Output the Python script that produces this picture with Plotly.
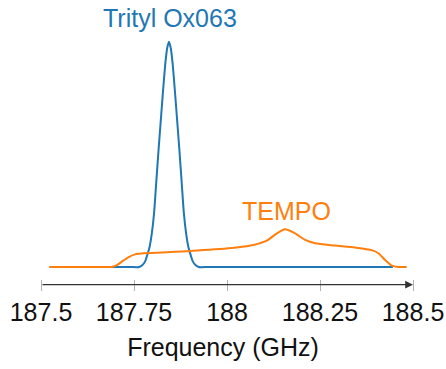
import plotly.graph_objects as go

# Data
tick_vals = [187.5, 187.75, 188.0, 188.25, 188.5]
tick_text = ["187.5", "187.75", "188", "188.25", "188.5"]

trityl_x = [187.69, 187.74, 187.764, 187.772, 187.78, 187.786, 187.792, 187.798, 187.804,
            187.810, 187.816, 187.822, 187.828, 187.834, 187.839, 187.844,
            187.849, 187.854, 187.860, 187.866, 187.872, 187.878, 187.884,
            187.890, 187.896, 187.902, 187.908, 187.916, 187.924, 187.95, 188.2, 188.446]
trityl_y = [0.0, 0.0, 0.0, 0.008, 0.025, 0.055, 0.09, 0.15, 0.24,
            0.38, 0.52, 0.65, 0.78, 0.90, 0.97, 1.0,
            0.97, 0.90, 0.78, 0.65, 0.52, 0.38, 0.24,
            0.15, 0.09, 0.055, 0.025, 0.008, 0.0, 0.0, 0.0, 0.0]

tempo_x = [187.522, 187.6, 187.670, 187.690, 187.704, 187.720, 187.737, 187.753, 187.793, 187.847,
           187.936, 188.026, 188.071, 188.107, 188.134, 188.156, 188.183, 188.210,
           188.237, 188.290, 188.344, 188.389, 188.407, 188.425, 188.443, 188.460,
           188.472, 188.483]
tempo_y = [0.0, 0.0, 0.0, 0.0, 0.008, 0.027, 0.045, 0.056, 0.062, 0.066,
           0.075, 0.087, 0.098, 0.117, 0.149, 0.167, 0.149, 0.120,
           0.105, 0.095, 0.086, 0.075, 0.061, 0.031, 0.006, 0.0,
           0.0, 0.0]

BLUE = "#1f77b4"
ORANGE = "#ff7f0e"
FONT = "Liberation Sans, Arial, sans-serif"

fig = go.Figure()
fig.add_trace(go.Scatter(x=trityl_x, y=trityl_y, mode="lines",
                         line=dict(color=BLUE, width=2, shape="spline", smoothing=0.6),
                         showlegend=False, hoverinfo="skip"))
fig.add_trace(go.Scatter(x=tempo_x, y=tempo_y, mode="lines",
                         line=dict(color=ORANGE, width=2, shape="spline", smoothing=0.6),
                         showlegend=False, hoverinfo="skip"))

fig.add_annotation(x=187.847, y=1.105, xref="x", yref="y", text="Trityl Ox063",
                   showarrow=False, font=dict(family=FONT, size=25, color=BLUE))
fig.add_annotation(x=188.16, y=0.25, xref="x", yref="y", text="TEMPO",
                   showarrow=False, font=dict(family=FONT, size=25, color=ORANGE))

# axis line with arrow
fig.add_annotation(x=188.5, y=-0.0204, xref="x", yref="paper",
                   ax=187.5, ay=0, axref="x", ayref="pixel", text="",
                   showarrow=True, arrowhead=2, arrowsize=1.2, arrowwidth=1.3,
                   arrowcolor="#333333", standoff=0, startstandoff=0)

fig.update_layout(
    width=446, height=369,
    margin=dict(l=0, r=0, t=0, b=90),
    paper_bgcolor="white", plot_bgcolor="white",
    xaxis=dict(range=[187.3898, 188.5887], tickvals=tick_vals, ticktext=tick_text,
               ticks="outside", ticklen=11, tickcolor="#b0b0b0", tickwidth=1,
               showgrid=False, zeroline=False, showline=False,
               tickfont=dict(family=FONT, size=25, color="#111111"),
               title=dict(text="Frequency (GHz)", standoff=13,
                          font=dict(family=FONT, size=25, color="#111111"))),
    yaxis=dict(range=[-0.0533, 1.185], visible=False),
)

fig.write_html("out.html")
